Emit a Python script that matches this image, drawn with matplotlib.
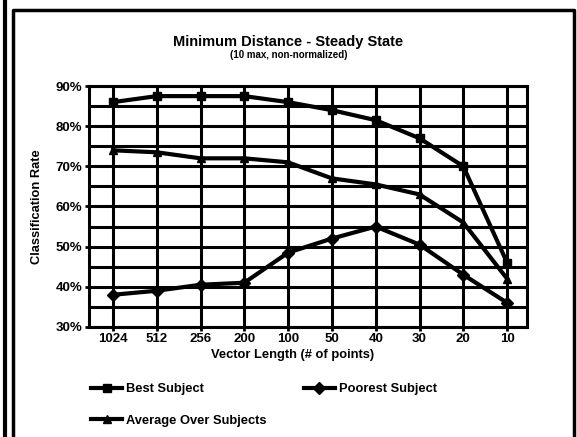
import matplotlib
matplotlib.use("Agg")
import matplotlib.pyplot as plt
from matplotlib.lines import Line2D
import numpy as np

plt.rcParams['font.family'] = ['Liberation Sans', 'DejaVu Sans']
plt.rcParams['font.weight'] = 'bold'

# Vector lengths (categorical x axis) and classification rates (%)
vector_lengths = ["1024", "512", "256", "200", "100", "50", "40", "30", "20", "10"]
best_subject = [86, 87.5, 87.5, 87.5, 86, 84, 81.5, 77, 70, 46]
poorest_subject = [38, 39, 40.5, 41, 48.5, 52, 55, 50.5, 43, 36]
average_subjects = [74, 73.5, 72, 72, 71, 67, 65.5, 63, 56, 42]
y_ticks = [30, 40, 50, 60, 70, 80, 90]

fig = plt.figure(figsize=(5.77, 4.37), dpi=100)
ax = fig.add_axes([0.154, 0.252, 0.759, 0.551])

x = np.arange(len(vector_lengths))
l_best, = ax.plot(x, best_subject, color='black', lw=3, marker='s', ms=6, zorder=3)
l_poor, = ax.plot(x, poorest_subject, color='black', lw=3, marker='D', ms=6, zorder=3)
l_avg, = ax.plot(x, average_subjects, color='black', lw=3, marker='^', ms=6, zorder=3)

ax.set_xlim(-0.55, 9.45)
ax.set_ylim(30, 90)
ax.set_xticks(x)
ax.set_xticklabels(vector_lengths, fontsize=9.5, fontweight='bold')
ax.set_yticks(y_ticks)
ax.set_yticks([35, 45, 55, 65, 75, 85], minor=True)
ax.set_yticklabels([f"{v}%" for v in y_ticks], fontsize=9.5, fontweight='bold')
ax.grid(True, which='both', color='black', lw=2.2)
ax.set_axisbelow(True)
ax.tick_params(axis='both', which='major', length=3, width=2, color='black', pad=1.5)
ax.tick_params(axis='y', which='minor', length=0)
for s in ax.spines.values():
    s.set_linewidth(2.2)

ax.set_xlabel("Vector Length (# of points)", fontsize=9.3, fontweight='bold')
ax.xaxis.set_label_coords(0.466, -0.09)
ax.set_ylabel("Classification Rate", fontsize=9.3, fontweight='bold', labelpad=9)

fig.text(0.5, 0.903, "Minimum Distance - Steady State", ha='center', va='center',
         fontsize=10.5, fontweight='bold')
fig.text(0.5, 0.873, "(10 max, non-normalized)", ha='center', va='center',
         fontsize=7, fontweight='bold')

fig.legend([l_best, l_avg, l_poor],
           ["Best Subject", "Average Over Subjects", "Poorest Subject"],
           ncol=2, loc='upper left', bbox_to_anchor=(0.158, 0.123),
           frameon=False, fontsize=9.3, handlelength=2.4, columnspacing=2.9,
           labelspacing=1.5, handletextpad=0.3, borderaxespad=0,
           borderpad=0)

# Outer frame
fig.add_artist(Line2D([0.009, 0.009], [0, 1], transform=fig.transFigure, color='black', lw=3))
fig.add_artist(Line2D([0.022, 0.022, 0.995, 0.995], [0, 0.977, 0.977, 0],
                      transform=fig.transFigure, color='black', lw=2.5))

fig.savefig("out.png", dpi=100, facecolor='white')
